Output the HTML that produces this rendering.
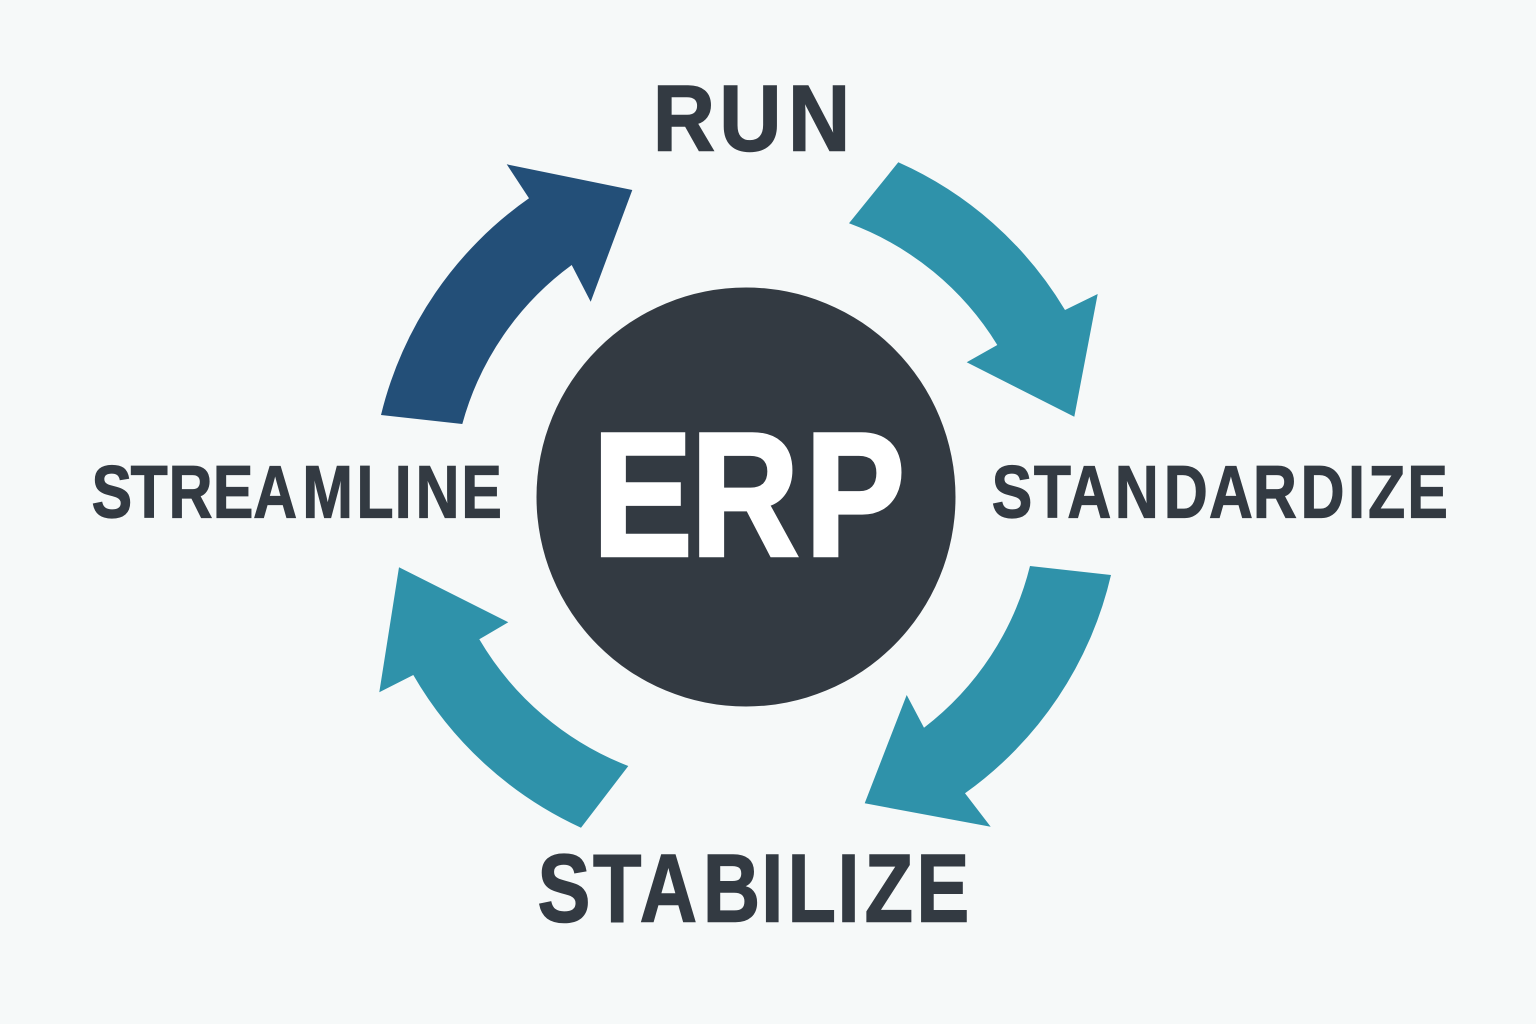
<!DOCTYPE html>
<html>
<head>
<meta charset="utf-8">
<style>
html,body{margin:0;padding:0;background:#f6f9f9;}
svg{display:block;}
text{font-family:"Liberation Sans",sans-serif;font-weight:700;fill:#333a42;stroke:#333a42;stroke-linejoin:miter;}
</style>
</head>
<body>
<svg width="1536" height="1024" viewBox="0 0 1536 1024" xmlns="http://www.w3.org/2000/svg">
<rect width="1536" height="1024" fill="#f6f9f9"/>
<circle cx="746" cy="497" r="209.500" fill="#333a42"/>
<path d="M898.300 162.300 A369 369 0 0 1 1065 310 L1097.700 294 L1074.300 416.700 L966.700 362.300 L997.300 345 A293 293 0 0 0 849 223.300 Z" fill="#2f92aa"/>
<path d="M1111 575 A371 371 0 0 1 965 793.300 L990.700 826.700 L864.700 803.300 L906.700 695 L924 727.700 A292 292 0 0 0 1030 566 Z" fill="#2f92aa"/>
<path d="M581 827.700 A374 374 0 0 1 413.300 675 L379.300 692.300 L399 567.300 L508.300 622.300 L479.300 639.300 A298 298 0 0 0 628.300 766 Z" fill="#2f92aa"/>
<path d="M381 415 L462.300 424 A292 292 0 0 1 571.700 265 L590.700 301.700 L632.300 190 L506.700 164.300 L529 198.300 A371 371 0 0 0 381 415 Z" fill="#234f78"/>
<text transform="scale(.92 1)" y="150.500" font-size="93.700" stroke-width="1.500" x="709.500 781.800 856.500">RUN</text>
<text transform="scale(.82 1)" y="517.500" font-size="74" stroke-width="1.200" x="111.800 159.300 205.600 259.600 308.800 368.700 434.700 481.400 506.900 562.700">STREAMLINE</text>
<text transform="scale(.82 1)" y="517.500" font-size="74" stroke-width="1.200" x="1209.400 1260.900 1301.700 1359.600 1419.400 1474.400 1528 1586.100 1644.100 1668.500 1716.300">STANDARDIZE</text>
<text transform="scale(.82 1)" y="921.500" font-size="96.700" stroke-width="1.500" x="655.500 723.200 780.200 857.100 928.300 960.400 1021.300 1054.400 1117.600">STABILIZE</text>
<text transform="scale(.85 1)" y="555.300" font-size="176" stroke-width="4" x="697.200 812.800 947.200" style="fill:#ffffff;stroke:#ffffff">ERP</text>
</svg>
</body>
</html>
